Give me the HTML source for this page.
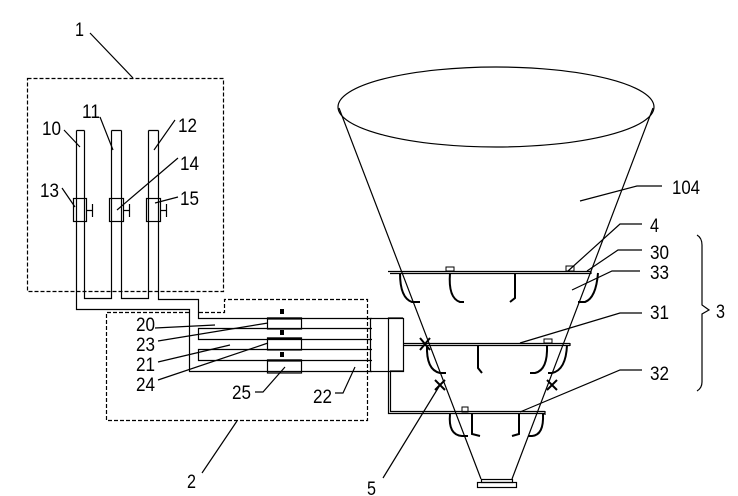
<!DOCTYPE html>
<html><head><meta charset="utf-8"><style>
html,body{margin:0;padding:0;background:#fff}
svg{display:block}
text{font-family:"Liberation Sans",sans-serif;font-size:19px;fill:#000}
</style></head><body>
<svg width="738" height="496" viewBox="0 0 738 496" xmlns="http://www.w3.org/2000/svg">
<g fill="none" stroke="#000" stroke-width="1.2">
<rect x="27.5" y="78.5" width="196" height="213" stroke-dasharray="4,2"/>
<path d="M189,312.5 H106.5 V420.5 H367.5 V299.5 H224.5 V312.5 H198" stroke-dasharray="4,2"/>
<path d="M76.5,130.5 V309.5 H189.5 V371.5 H372"/>
<path d="M84.5,130.5 V298.5 H111.5 V130.5"/>
<path d="M76.5,130.5 H84.5 M111.5,130.5 H121.5 M148.5,130.5 H158.5"/>
<path d="M121.5,130.5 V298.5 H148.5 V130.5"/>
<path d="M158.5,130.5 V299.5 H198.5 V318.5 H372"/>
<path d="M372,328.5 H198.5 V339.5 H372"/>
<path d="M372,349.5 H198.5 V360.5 H372"/>
<rect x="73.5" y="198.5" width="13" height="23"/>
<rect x="109.5" y="198.5" width="14" height="23"/>
<rect x="146.5" y="198.5" width="14" height="23"/>
<path d="M86,210.5 H92 M92.5,204 V217 M123,210.5 H129 M129.5,204 V217 M160,210.5 H166 M166.5,204 V217"/>
<rect x="267.5" y="318" width="34" height="11"/>
<rect x="267.5" y="338" width="34" height="12"/>
<rect x="267.5" y="360" width="34" height="13"/>
<path d="M267,318.5 H302 M267,338.5 H302 M267,360.5 H302" stroke-width="2.2"/>
<rect x="370.5" y="318.5" width="33" height="53"/>
<ellipse cx="496" cy="107" rx="158" ry="40"/>
<path d="M339,108 L481,479 M653,108 L512,479"/>
<rect x="481.5" y="479.5" width="31" height="3"/>
<rect x="477.5" y="482.5" width="39" height="5"/>
<path d="M403,318 H388.5 V413.5 H545 M403,371 H390.5 V411.5 H545"/>
<path d="M388,271.5 H591 M390,273.5 H591 M591,271 V274"/>
<path d="M403,343.5 H570 M403,345.5 H570 M570,343 V346"/>
<path d="M545,411 V415"/>
<path d="M697,235 Q702,238 702,245 V305 L709,310 L702,314 V382 Q702,388 697,391"/>
<path d="M90,33 L133,78 M64,130 L80,147 M100,117 L113,150 M175,120 L154,150 M178,158 L117,210 M62,188 L75,207 M178,197 L155,203"/>
<path d="M155,328 L215,325 M158,341 L268,323 M158,362 L230,345 M158,380 L268,343 M255,392 H263 L285,367 M335,393 H343 L355,367 M202,473 L237,421"/>
<path d="M580,201 L637,186 H662 M568,271 L620,224 H642 M587,271 L618,250 H642 M572,290 L612,271 H640 M520,343 L620,313 H642 M520,412 L620,370 H642 M383,478 L440,385"/>
</g>
<g stroke="#000" stroke-width="2" fill="none">
<path d="M400,273 Q400,298 412,302 H420"/>
<path d="M450,273 Q448,298 460,302 H464"/>
<path d="M515,273 V298 L510,302"/>
<path d="M598,273 Q596,298 585,302 H578"/>
<path d="M427,345 Q426,370 440,373 H446"/>
<path d="M478,345 V368 L482,373"/>
<path d="M547,345 Q548,370 535,373 H530"/>
<path d="M567,345 Q566,370 552,373 H548"/>
<path d="M450,414 Q448,435 462,436 H468"/>
<path d="M472,414 V434 L480,436"/>
<path d="M519,414 V434 L512,436"/>
<path d="M543,414 Q544,435 532,436 H528"/>
<path d="M420,338 L430,350 M430,338 L420,350 M435,380 L445,390 M445,380 L435,390 M547,380 L557,390 M557,380 L547,390"/>
</g>
<g fill="#000">
<rect x="280" y="309" width="4" height="5"/>
<rect x="280" y="330" width="4" height="5"/>
<rect x="280" y="352" width="4" height="5"/>
<rect x="446" y="267" width="8" height="4" fill="none" stroke="#000"/>
<rect x="566" y="266" width="8" height="5" fill="none" stroke="#000"/>
<rect x="544" y="339" width="8" height="4" fill="none" stroke="#000"/>
<rect x="462" y="407" width="6" height="5" fill="none" stroke="#000"/>
</g>
<g>
<text x="75" y="36" textLength="9" lengthAdjust="spacingAndGlyphs">1</text>
<text x="42" y="135" textLength="19" lengthAdjust="spacingAndGlyphs">10</text>
<text x="82" y="118" textLength="18" lengthAdjust="spacingAndGlyphs">11</text>
<text x="178" y="132" textLength="19" lengthAdjust="spacingAndGlyphs">12</text>
<text x="180" y="170" textLength="19" lengthAdjust="spacingAndGlyphs">14</text>
<text x="40" y="197" textLength="19" lengthAdjust="spacingAndGlyphs">13</text>
<text x="180" y="205" textLength="19" lengthAdjust="spacingAndGlyphs">15</text>
<text x="136" y="331" textLength="19" lengthAdjust="spacingAndGlyphs">20</text>
<text x="136" y="351" textLength="19" lengthAdjust="spacingAndGlyphs">23</text>
<text x="136" y="371" textLength="19" lengthAdjust="spacingAndGlyphs">21</text>
<text x="136" y="391" textLength="19" lengthAdjust="spacingAndGlyphs">24</text>
<text x="232" y="399" textLength="19" lengthAdjust="spacingAndGlyphs">25</text>
<text x="313" y="403" textLength="19" lengthAdjust="spacingAndGlyphs">22</text>
<text x="187" y="488" textLength="9" lengthAdjust="spacingAndGlyphs">2</text>
<text x="367" y="495" textLength="9" lengthAdjust="spacingAndGlyphs">5</text>
<text x="672" y="194" textLength="28" lengthAdjust="spacingAndGlyphs">104</text>
<text x="650" y="232" textLength="9" lengthAdjust="spacingAndGlyphs">4</text>
<text x="650" y="259" textLength="19" lengthAdjust="spacingAndGlyphs">30</text>
<text x="650" y="279" textLength="19" lengthAdjust="spacingAndGlyphs">33</text>
<text x="650" y="319" textLength="19" lengthAdjust="spacingAndGlyphs">31</text>
<text x="650" y="380" textLength="19" lengthAdjust="spacingAndGlyphs">32</text>
<text x="716" y="318" textLength="9" lengthAdjust="spacingAndGlyphs">3</text>
</g>
</svg>
</body></html>
